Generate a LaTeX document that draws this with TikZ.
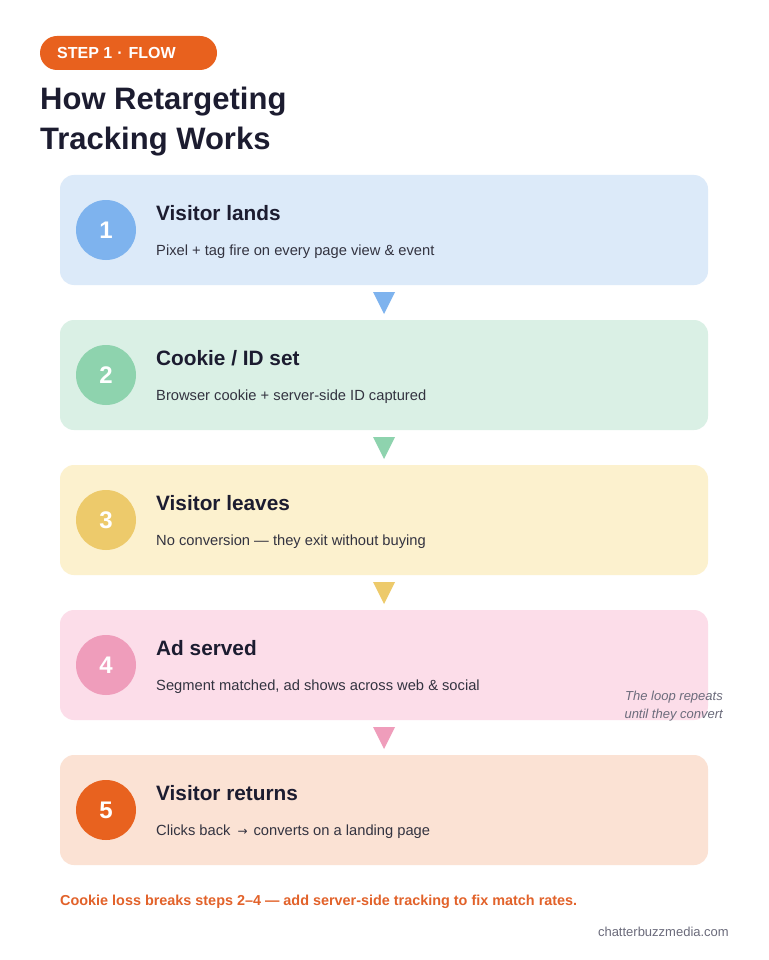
\documentclass[tikz,border=0pt]{standalone}
\usepackage{fontspec}
\setmainfont{Liberation Sans}
\newfontfamily\symfont{DejaVu Sans}
\definecolor{orng}{HTML}{E8611E}
\definecolor{footc}{HTML}{E2622A}
\definecolor{ink}{HTML}{1C1C30}
\definecolor{sub}{HTML}{333340}
\definecolor{bgA}{HTML}{DCEAF9}\definecolor{ciA}{HTML}{7EB3EE}
\definecolor{bgB}{HTML}{DAF0E5}\definecolor{ciB}{HTML}{8ED3AE}
\definecolor{bgC}{HTML}{FCF1CE}\definecolor{ciC}{HTML}{EDCA6B}
\definecolor{bgD}{HTML}{FCDDE9}\definecolor{ciD}{HTML}{EF9DBB}
\definecolor{bgE}{HTML}{FBE2D4}\definecolor{ciE}{HTML}{E8621F}
\definecolor{note}{HTML}{6B6B7B}
\begin{document}
\begin{tikzpicture}[x=1pt,y=-1pt,
  card/.style={rounded corners=14pt},
  numc/.style={circle,minimum size=60pt,inner sep=0pt,text=white,font=\fontsize{24}{28}\selectfont\bfseries},
  ttl/.style={anchor=base west,text=ink,font=\fontsize{20.8}{24}\selectfont\bfseries,inner sep=0pt},
  dsc/.style={anchor=base west,text=sub,font=\fontsize{14.7}{18}\selectfont,inner sep=0pt}
]
\useasboundingbox[fill=white] (0,0) rectangle (768,960);
% badge
\fill[orng,rounded corners=17pt] (40,36) rectangle (217,70);
\node[anchor=base west,text=white,font=\fontsize{16}{19}\selectfont\bfseries,inner sep=0pt] (badge) at (57,59) {STEP 1\hspace{5pt}·\hspace{6pt}FLOW};
\node[anchor=base west,text=ink,font=\fontsize{31}{40}\selectfont\bfseries,inner sep=0pt] (t1) at (40,110) {How Retargeting};
\node[anchor=base west,text=ink,font=\fontsize{31}{40}\selectfont\bfseries,inner sep=0pt] (t2) at (40,150) {Tracking Works};
% cards
\foreach \i/\y/\bg/\ci/\h/\d in {
 1/175/bgA/ciA/{Visitor lands}/{Pixel + tag fire on every page view \& event},
 2/320/bgB/ciB/{Cookie / ID set}/{Browser cookie + server-side ID captured},
 3/465/bgC/ciC/{Visitor leaves}/{No conversion — they exit without buying},
 4/610/bgD/ciD/{Ad served}/{Segment matched, ad shows across web \& social},
 5/755/bgE/ciE/{Visitor returns}/{Clicks back\hspace{7pt}{\symfont\fontsize{12}{12}\selectfont →}\hspace{6pt}converts on a landing page}}{
  \fill[\bg,card] (60,\y) rectangle (708,\y+110);
  \node[numc,fill=\ci] (c\i) at (106,\y+55) {\i};
  \node[ttl] (h\i) at (156,\y+45) {\h};
  \node[dsc] (d\i) at (156,\y+80) {\d};
}
% triangles
\foreach \y/\ci in {292/ciA,437/ciB,582/ciC,727/ciD}{
  \fill[\ci] (373,\y) -- (395,\y) -- (384,\y+22) -- cycle;
}
\node[anchor=base east,text=note,font=\fontsize{13}{16}\selectfont\itshape,inner sep=0pt] (n1) at (723,700) {The loop repeats};
\node[anchor=base east,text=note,font=\fontsize{13}{16}\selectfont\itshape,inner sep=0pt] (n2) at (723,718) {until they convert};
\node[anchor=base west,text=footc,font=\fontsize{14.4}{17}\selectfont\bfseries,inner sep=0pt] (foot) at (60,905) {Cookie loss breaks steps 2–4 — add server-side tracking to fix match rates.};
\node[anchor=base east,text=note,font=\fontsize{13}{16}\selectfont,inner sep=0pt] (site) at (729,936) {chatterbuzzmedia.com};
\end{tikzpicture}
\end{document}
